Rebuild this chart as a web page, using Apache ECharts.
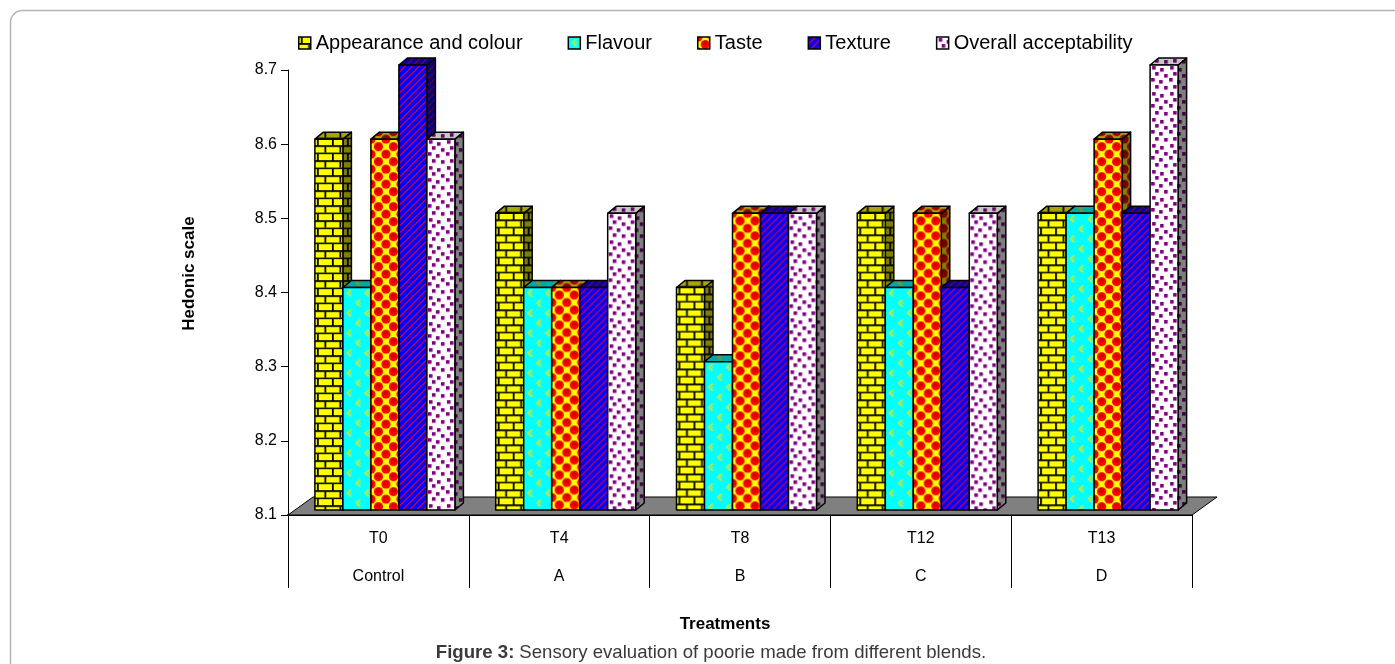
<!DOCTYPE html>
<html><head><meta charset="utf-8">
<style>html,body{margin:0;padding:0;background:#fff;overflow:hidden}#c{width:1395px;height:664px}</style>
<script src="https://cdn.jsdelivr.net/npm/echarts@6/dist/echarts.min.js"></script>
</head><body><div id="c"></div>
<script>
const treatments = ['T0','T4','T8','T12','T13'];
const blends = ['Control','A','B','C','D'];
const seriesNames = ['Appearance and colour','Flavour','Taste','Texture','Overall acceptability'];
const appearance = [8.6,8.5,8.4,8.5,8.5];
const flavour = [8.4,8.4,8.3,8.4,8.5];
const taste = [8.6,8.4,8.5,8.5,8.6];
const texture = [8.7,8.4,8.5,8.4,8.5];
const overall = [8.6,8.5,8.5,8.5,8.7];
const yTicks = {min:8.1,max:8.7,interval:0.1};

function tile(w,h,draw,shade){
  const c=document.createElement('canvas');c.width=w;c.height=h;
  const g=c.getContext('2d');draw(g,w,h);
  if(shade){g.fillStyle='rgba(0,0,0,'+shade+')';g.fillRect(0,0,w,h);}
  return {type:'pattern',image:c,repeat:'repeat'};
}
const draws=[
 function(g,w,h){ // bricks
  g.fillStyle='#ffff00';g.fillRect(0,0,w,h);
  g.fillStyle='#000';
  g.fillRect(0,6,w,1.8);g.fillRect(0,13.5,w,1.8);
  g.fillRect(2,0,1.8,6);
  g.fillRect(9.5,7.5,1.8,6);
 },
 function(g,w,h){ // cyan with chevrons
  g.fillStyle='#00ffff';g.fillRect(0,0,w,h);
  g.fillStyle='#b4e850';
  function chev(x,y){[[3,0],[2,1],[1,2],[0,3],[1,4],[2,5],[3,6]].forEach(p=>g.fillRect(x+p[0],y+p[1],3,1));
   g.fillRect(x+4,y+3,2,1);}
  chev(3,2);chev(12,12);
 },
 function(g,w,h){ // red balls on yellow
  g.fillStyle='#ffff00';g.fillRect(0,0,w,h);
  [[0,0],[w,0],[0,h],[w,h],[w/2,h/2]].forEach(p=>{
   g.fillStyle='#ff0000';g.beginPath();g.arc(p[0],p[1],4.6,0,7);g.fill();
   g.fillStyle='#d80000';g.beginPath();g.arc(p[0],p[1]-1.5,2.6,0,7);g.fill();
  });
 },
 function(g,w,h){ // blue diagonal stripes
  g.fillStyle='#0000ff';g.fillRect(0,0,w,h);
  g.fillStyle='#b00060';
  for(let i=0;i<w;i++){g.fillRect(w-1-i,i,1,1);g.fillRect((w-i)%w,i,1,1);}
 },
 function(g,w,h){ // white purple dots
  g.fillStyle='#ffffff';g.fillRect(0,0,w,h);
  g.fillStyle='#800080';
  [[2,1],[10,3],[5,7],[14,9],[1,13],[9,15],[5,20],[14,21]].forEach(p=>g.fillRect(p[0],p[1],3.6,3.6));
 }
];
const tileSize=[[15,15],[18,20],[15,15],[7,7],[18,26]];
const fronts=draws.map((d,i)=>tile(tileSize[i][0],tileSize[i][1],d,0));
const sides=draws.map((d,i)=>tile(tileSize[i][0],tileSize[i][1],d,0.5));
const tops=draws.map((d,i)=>tile(tileSize[i][0],tileSize[i][1],d,i===4?0.22:0.35));

const DX=8.5,DY=7,LIFT=5,SHIFT=6.5,BAR=28;
function barRender(si){
 return function(params,api){
  const p=api.coord([api.value(0),api.value(1)]);
  const base=api.coord([api.value(0),yTicks.min]);
  const left=p[0]+(si-2.5)*BAR+SHIFT, top=p[1]-LIFT, bot=base[1]-LIFT;
  const line={stroke:'#000',lineWidth:1.5,lineJoin:'round'};
  const h=bot-top;
  return {type:'group',children:[
   {type:'polygon',x:left,y:top,shape:{points:[[BAR,0],[BAR+DX,-DY],[BAR+DX,h-DY],[BAR,h]]},style:Object.assign({fill:sides[si]},line)},
   {type:'polygon',x:left,y:top,shape:{points:[[0,0],[DX,-DY],[BAR+DX,-DY],[BAR,0]]},style:Object.assign({fill:tops[si]},line)},
   {type:'rect',x:left,y:top,shape:{x:0,y:0,width:BAR,height:h},style:Object.assign({fill:fronts[si]},line)}
  ]};
 };
}
const values=[appearance,flavour,taste,texture,overall];
const barSeries=seriesNames.map((n,si)=>({
 type:'custom',name:n,renderItem:barRender(si),clip:false,z:3,
 itemStyle:{color:fronts[si]},
 encode:{x:0,y:1},
 data:values[si].map((v,i)=>[i,v])
}));
const floorSeries={
 type:'custom',silent:true,z:2,clip:false,data:[[0,yTicks.min]],encode:{x:0,y:1},
 renderItem:function(params,api){
  const r=params.coordSys;const b=r.y+r.height;
  return {type:'polygon',shape:{points:[[r.x,b],[r.x+25,b-18],[r.x+r.width+25,b-18],[r.x+r.width,b]]},
   style:{fill:'#808080',stroke:'#000',lineWidth:1}};
 }
};
const font='"Liberation Sans"';
const chart=echarts.init(document.getElementById('c'),null,{renderer:'canvas'});
chart.setOption({
 animation:false,backgroundColor:'#fff',
 grid:{left:288,top:70,width:904,height:445,containLabel:false},
 legend:{left:293,top:28,itemGap:45,itemWidth:12,itemHeight:12,selectedMode:false,icon:'rect',
  itemStyle:{borderColor:'#000',borderWidth:1.5},
  data:seriesNames,textStyle:{fontFamily:font,fontSize:20,color:'#000'}},
 title:{text:'{b|Figure 3:} {n|Sensory evaluation of poorie made from different blends.}',left:706,top:638,textAlign:'center',
  textStyle:{rich:{b:{fontFamily:font,fontWeight:'bold',fontSize:18.6,color:'#3a3a3a'},n:{fontFamily:font,fontWeight:'normal',fontSize:18.6,color:'#3a3a3a'}}}},
 xAxis:{type:'category',data:treatments.map((t,i)=>t+'\n'+blends[i]),
  name:'Treatments',nameLocation:'middle',nameGap:101,
  nameTextStyle:{fontFamily:font,fontWeight:'bold',fontSize:17,color:'#000',padding:[0,30,0,0]},
  axisLine:{show:true,lineStyle:{color:'#000',width:2}},
  axisTick:{show:true,length:73,alignWithLabel:false,lineStyle:{color:'#000',width:1}},
  axisLabel:{fontFamily:font,fontSize:16,color:'#000',lineHeight:38,margin:5,interval:0},
  splitLine:{show:false}},
 yAxis:{type:'value',min:yTicks.min,max:yTicks.max,interval:yTicks.interval,
  name:'Hedonic scale',nameLocation:'middle',nameGap:90,
  nameTextStyle:{fontFamily:font,fontWeight:'bold',fontSize:17,color:'#000',padding:[0,0,0,38]},
  axisLine:{show:true,lineStyle:{color:'#000',width:1}},
  axisTick:{show:true,length:7,lineStyle:{color:'#000',width:1}},
  axisLabel:{fontFamily:font,fontSize:16,color:'#000',margin:11,formatter:v=>v.toFixed(1)},
  splitLine:{show:false}},
 graphic:[{type:'rect',z:-1,silent:true,shape:{x:10.5,y:10.5,width:1500,height:800,r:12},style:{fill:'none',stroke:'#b4b4b4',lineWidth:1.5}}],
 series:[floorSeries].concat(barSeries)
});
</script></body></html>
